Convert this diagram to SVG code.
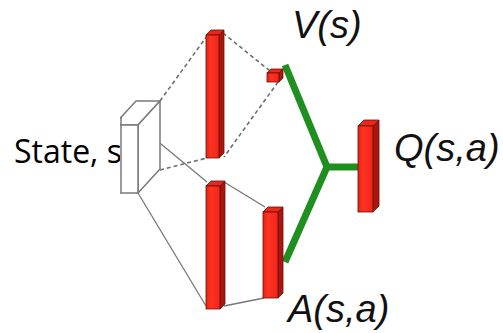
<svg xmlns="http://www.w3.org/2000/svg" width="503" height="333" viewBox="0 0 503 333">
  <defs>
    <clipPath id="textClip"><rect x="0" y="0" width="120" height="333"/></clipPath>
    <clipPath id="boxClip"><rect x="120" y="0" width="383" height="333"/></clipPath>
    <linearGradient id="frontGrad" x1="0" y1="0" x2="1" y2="0">
      <stop offset="0" stop-color="#e8220f"/>
      <stop offset="0.35" stop-color="#ff3322"/>
      <stop offset="1" stop-color="#f0241a"/>
    </linearGradient>
  </defs>
  <style>
    .bg { fill: #ffffff; }
    .label { font-family: "Liberation Sans", Arial, sans-serif; font-style: italic; font-size: 38px; fill: #111; }
    .state { font-family: "Open Sans", "Noto Sans", sans-serif; font-size: 32px; fill: #000; }
    .front { fill: url(#frontGrad); stroke: #6a100a; stroke-width: 0.8; }
    .top { fill: #e9281b; stroke: #6a100a; stroke-width: 0.8; }
    .side { fill: #a8170e; stroke: #6a100a; stroke-width: 0.8; }
    .dash { stroke: #6e6e6e; stroke-width: 1.6; stroke-dasharray: 4 3; fill: none; }
    .solid { stroke: #777; stroke-width: 1.3; fill: none; }
    .boxface { fill: #fff; stroke: #7a7a7a; stroke-width: 1.5; stroke-linejoin: round; }
    .green { stroke: #1f8f1f; stroke-width: 7; fill: none; stroke-linejoin: miter; }
  </style>
  <rect class="bg" x="0" y="0" width="503" height="333"/>

  <g id="state-label">
    <text class="state" x="14" y="163" clip-path="url(#textClip)">State, s</text>
  </g>

  <g id="connectors">
    <line class="dash" x1="160" y1="101" x2="207" y2="36"/>
    <line class="dash" x1="223" y1="33" x2="270" y2="71"/>
    <line class="dash" x1="278" y1="82" x2="224" y2="157"/>
    <line class="dash" x1="160" y1="170" x2="207" y2="158"/>
    <line class="solid" x1="138" y1="125" x2="207" y2="182"/>
    <line class="solid" x1="224" y1="182" x2="265" y2="207"/>
    <line class="solid" x1="138" y1="193" x2="206" y2="306"/>
    <line class="solid" x1="224" y1="306" x2="264" y2="298"/>
    <polyline class="green" points="285,65 327,167 285,262"/>
    <line class="green" x1="326" y1="167" x2="359" y2="167"/>
  </g>

  <g id="input-box" clip-path="url(#boxClip)">
    <polygon class="boxface" points="114,125 136,101 160,101 138,125"/>
    <polygon class="boxface" points="138,125 160,101 160,169 138,193"/>
    <rect class="boxface" x="114" y="125" width="24" height="68"/>
    <line class="boxface" x1="121" y1="117" x2="121" y2="193"/>
  </g>

  <g id="hidden-v">
    <polygon class="side" points="219,35 224,30 224,153 219,158"/>
    <polygon class="top" points="206,35 211,30 224,30 219,35"/>
    <rect class="front" x="206" y="35" width="13" height="123"/>
  </g>

  <g id="value-node">
    <polygon class="side" points="279,73 283,69 283,78 279,82"/>
    <polygon class="top" points="267,73 271,69 283,69 279,73"/>
    <rect class="front" x="267" y="73" width="12" height="9"/>
    <text class="label" x="292" y="38">V(s)</text>
  </g>

  <g id="hidden-a">
    <polygon class="side" points="220,186 225,181 225,304 220,309"/>
    <polygon class="top" points="206,186 211,181 225,181 220,186"/>
    <rect class="front" x="206" y="186" width="14" height="123"/>
  </g>

  <g id="advantage-node">
    <polygon class="side" points="278,212 283,207 283,293 278,298"/>
    <polygon class="top" points="263,212 268,207 283,207 278,212"/>
    <rect class="front" x="263" y="212" width="15" height="86"/>
    <text class="label" x="288" y="322">A(s,a)</text>
  </g>

  <g id="q-node">
    <polygon class="side" points="373,126 379,120 379,206 373,212"/>
    <polygon class="top" points="358,126 364,120 379,120 373,126"/>
    <rect class="front" x="358" y="126" width="15" height="86"/>
    <text class="label" x="394" y="161">Q(s,a)</text>
  </g>
</svg>
